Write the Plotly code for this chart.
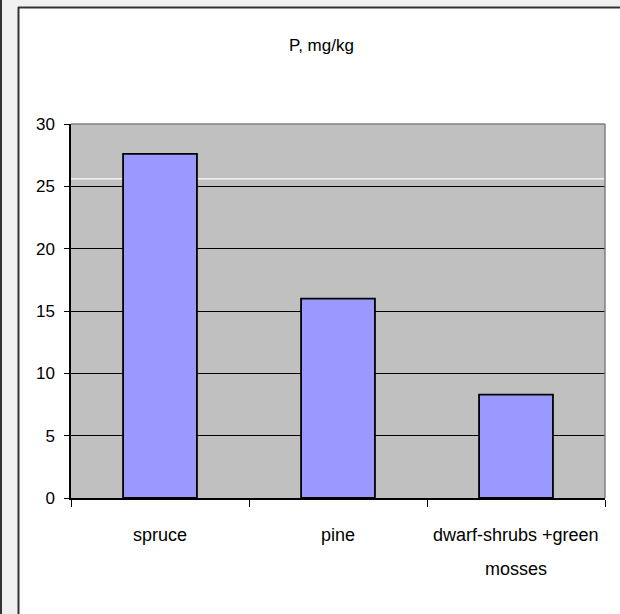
import plotly.graph_objects as go

# Phosphorus content by vegetation type
categories = ["spruce", "pine", "dwarf-shrubs +green<br>mosses"]
p_values = [27.6, 16.0, 8.3]
y_ticks = [0, 5, 10, 15, 20, 25, 30]
ref_level = 25.6

W, H = 620, 614
L, R, T, B = 71, 605, 124, 498  # plot-area edges in pixels
PW, PH = R - L, B - T


def px(x):
    return (x - L) / PW


def py(y):
    return (B - y) / PH


FONT = "Liberation Sans, Arial, sans-serif"
FS = 17
FRAME = "#333333"

fig = go.Figure(
    go.Bar(
        x=categories,
        y=p_values,
        width=0.415,
        marker=dict(color="#9999FF", line=dict(color="#000000", width=1.8)),
    )
)

shapes = [
    # window background, white chart sheet and its frame lines
    dict(type="rect", xref="paper", yref="paper", x0=px(-10), x1=px(W + 10),
         y0=py(-10), y1=py(H + 10), fillcolor="#F0F0F0", line_width=0, layer="below"),
    dict(type="rect", xref="paper", yref="paper", x0=px(19), x1=px(W + 20),
         y0=py(8), y1=py(H + 20), fillcolor="#FFFFFF", line_width=0, layer="below"),
    dict(type="line", xref="paper", yref="paper", x0=px(18), x1=px(W + 20),
         y0=py(7.5), y1=py(7.5), line=dict(color=FRAME, width=2), layer="below"),
    dict(type="line", xref="paper", yref="paper", x0=px(18.5), x1=px(18.5),
         y0=py(7), y1=py(H + 20), line=dict(color=FRAME, width=2), layer="below"),
    dict(type="line", xref="paper", yref="paper", x0=px(1), x1=px(1),
         y0=py(-10), y1=py(H + 10), line=dict(color=FRAME, width=2), layer="below"),
    # gray plot area and the white reference line on it
    dict(type="rect", xref="paper", yref="paper", x0=0, x1=1, y0=0, y1=1,
         fillcolor="#C0C0C0", line_width=0, layer="below"),
    dict(type="line", xref="paper", yref="y", x0=0, x1=1, y0=ref_level, y1=ref_level,
         line=dict(color="#FFFFFF", width=1.2), layer="below"),
    # plot-area border (top and right)
    dict(type="line", xref="paper", yref="paper", x0=0, x1=1, y0=1, y1=1,
         line=dict(color="#808080", width=1.5), layer="above"),
    dict(type="line", xref="paper", yref="paper", x0=1, x1=1, y0=0, y1=1,
         line=dict(color="#808080", width=1.5), layer="above"),
]

# category labels, one annotation per text line
annotations = [
    dict(text="P, mg/kg", xref="paper", yref="paper", x=px(321), y=py(45),
         xanchor="center", yanchor="middle", showarrow=False,
         font=dict(family=FONT, size=17, color="#000000")),
]
for cat in categories:
    for i, line in enumerate(cat.split("<br>")):
        annotations.append(
            dict(text=line, xref="x", yref="paper", x=cat, y=py(535 + 34 * i),
                 xanchor="center", yanchor="middle", showarrow=False,
                 font=dict(family=FONT, size=18, color="#000000"))
        )

fig.update_layout(
    width=W,
    height=H,
    margin=dict(l=L, r=W - R, t=T, b=H - B, pad=0, autoexpand=False),
    paper_bgcolor="#FFFFFF",
    plot_bgcolor="rgba(0,0,0,0)",
    showlegend=False,
    bargap=0.585,
    font=dict(family=FONT, size=FS, color="#000000"),
    shapes=shapes,
    annotations=annotations,
)

fig.update_yaxes(
    range=[0, 30],
    tickvals=y_ticks,
    ticktext=[str(v) for v in y_ticks],
    showgrid=True,
    gridcolor="#000000",
    gridwidth=1,
    showline=True,
    linecolor="#000000",
    linewidth=1.5,
    ticks="outside",
    ticklen=5,
    tickcolor="#000000",
    ticklabelstandoff=6,
    zeroline=False,
    automargin=False,
    fixedrange=True,
)
fig.update_xaxes(
    showgrid=False,
    showline=True,
    linecolor="#000000",
    linewidth=1.5,
    ticks="outside",
    tickson="boundaries",
    ticklen=7,
    tickcolor="#000000",
    showticklabels=False,
    automargin=False,
    fixedrange=True,
)

fig.write_html("out.html")
